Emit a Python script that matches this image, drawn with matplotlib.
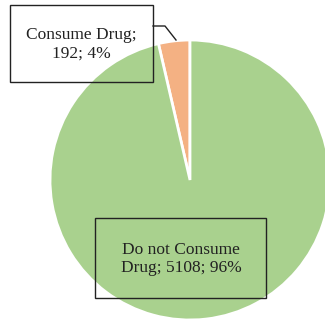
import matplotlib.pyplot as plt
from matplotlib.patches import Rectangle

# datos del gráfico
etiquetas = ['Consume Drug', 'Do not Consume\nDrug']
cuentas = [192, 5108]
colores = ['#F4B183', '#A9D18E']

total = sum(cuentas)
porcentajes = [round(100 * c / total) for c in cuentas]

fig = plt.figure(figsize=(3.25, 3.22), dpi=100)
ax = fig.add_axes([0, 0, 1, 1])

# coordenadas en pixeles (y hacia arriba)
H = 322
ax.pie(cuentas, colors=colores, startangle=90, counterclock=True,
       center=(190, H - 180), radius=140,
       wedgeprops={'edgecolor': 'white', 'linewidth': 2})

ax.set_xlim(0, 325)
ax.set_ylim(0, H)
ax.set_aspect('equal')
ax.axis('off')

fuente = {'family': 'Liberation Serif', 'size': 12.5, 'color': '#222222'}

# etiqueta 1 con línea guía
ax.add_patch(Rectangle((10, H - 82), 143, 77, fill=False, edgecolor='#222222', linewidth=1))
ax.plot([153, 165, 176], [H - 26, H - 26, H - 40], color='#222222', linewidth=1)
ax.text(81, H - 44, f'{etiquetas[0]};\n{cuentas[0]}; {porcentajes[0]}%',
        ha='center', va='center', linespacing=1.25, **fuente)

# etiqueta 2
ax.add_patch(Rectangle((95, H - 298), 171, 80, fill=False, edgecolor='#222222', linewidth=1))
ax.text(181, H - 259, f'{etiquetas[1]}; {cuentas[1]}; {porcentajes[1]}%',
        ha='center', va='center', linespacing=1.25, **fuente)

fig.savefig('out.png', dpi=100)
